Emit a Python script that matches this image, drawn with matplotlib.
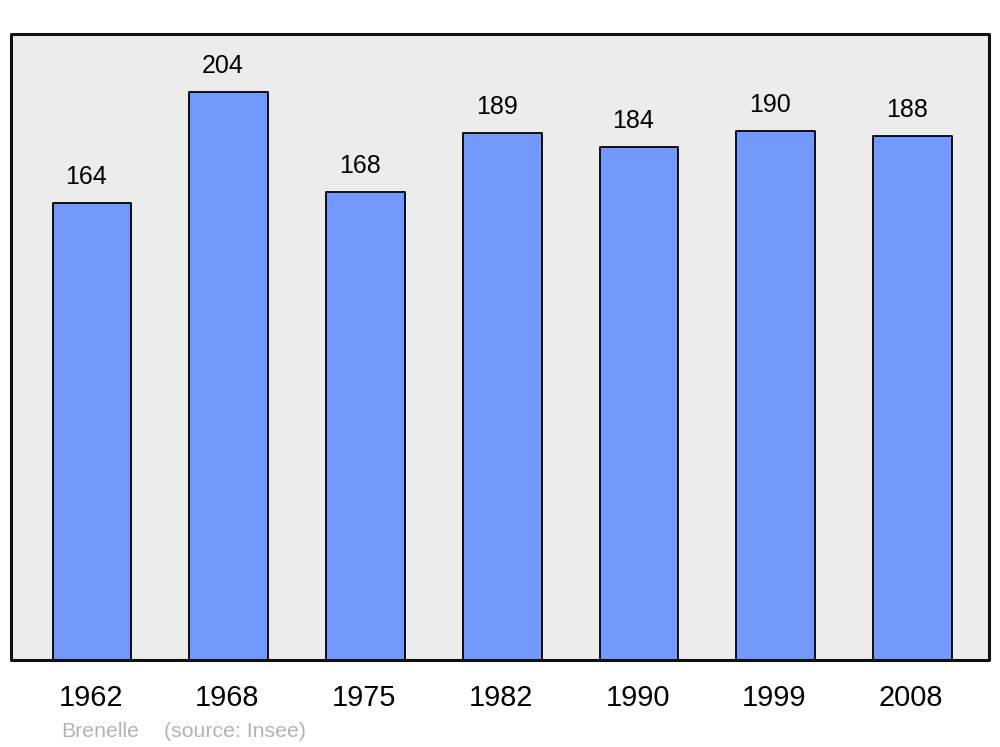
import matplotlib.pyplot as plt
from matplotlib.patches import Rectangle
import numpy as np

years = ["1962", "1968", "1975", "1982", "1990", "1999", "2008"]
population = [164, 204, 168, 189, 184, 190, 188]

plt.rcParams["font.family"] = ["Liberation Sans", "DejaVu Sans"]

fig = plt.figure(figsize=(10, 7.47), dpi=100)
ax = fig.add_axes([0.011, 0.1165, 0.978, 0.838])
ax.set_facecolor("#ececec")

x = np.arange(len(years))
bars = ax.bar(x, population, width=0.575, color="#7399ff",
              edgecolor="black", linewidth=1.3)
for b in bars:
    b.set_joinstyle("round")

for xi, v in zip(x, population):
    ax.annotate(str(v), (xi, v), xytext=(-4, 18.8), textcoords="offset points",
                ha="center", va="center", fontsize=18)

ax.set_xlim(-0.592, 6.56)
ax.set_ylim(0, 224.7)
ax.set_xticks([])
ax.set_yticks([])
for s in ax.spines.values():
    s.set_visible(False)

# year labels under each bar
for xi, yr in zip(x, years):
    ax.text(xi - 0.01, -0.06, yr, transform=ax.get_xaxis_transform(),
            ha="center", va="center", fontsize=20.8)

frame = Rectangle((0, 0), 1, 1, transform=ax.transAxes, fill=False,
                  edgecolor="#111111", linewidth=2.2, clip_on=False, zorder=5)
frame.set_joinstyle("round")
ax.add_patch(frame)

fig.text(0.061, 0.0205, "Brenelle", color="#b3b3b3", fontsize=15.3,
         ha="left", va="center")
fig.text(0.164, 0.0205, "(source: Insee)", color="#b3b3b3", fontsize=15.3,
         ha="left", va="center")

fig.savefig("out.png", dpi=100)
